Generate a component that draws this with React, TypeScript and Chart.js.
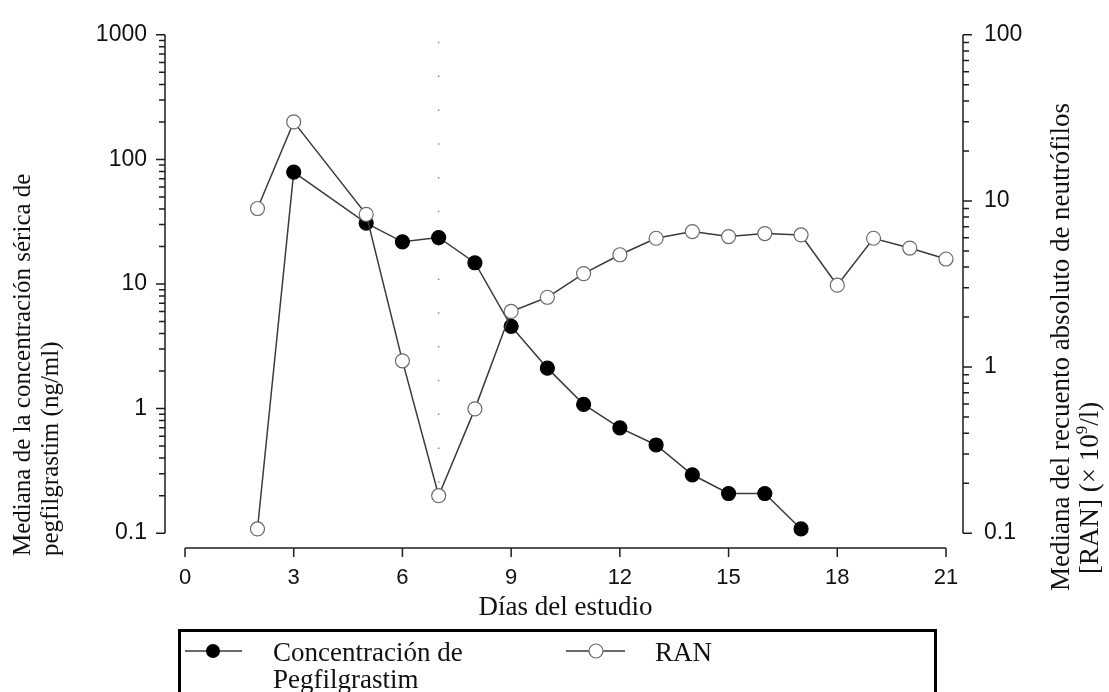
import React, { useEffect, useRef } from 'react';
import { Chart, registerables } from 'chart.js';

Chart.register(...registerables);

// ---- data ----
const ranDays = [2, 3, 5, 6, 7, 8, 9, 10, 11, 12, 13, 14, 15, 16, 17, 18, 19, 20, 21];
const ranValues = [9.0, 29.9, 8.3, 1.09, 0.168, 0.56, 2.16, 2.63, 3.65, 4.74, 5.96, 6.54, 6.1, 6.36, 6.24, 3.11, 5.96, 5.2, 4.47];
const pegDays = [2, 3, 5, 6, 7, 8, 9, 10, 11, 12, 13, 14, 15, 16, 17];
const pegValues = [0.108, 79, 30.8, 21.8, 23.6, 14.8, 4.57, 2.11, 1.08, 0.7, 0.51, 0.294, 0.208, 0.208, 0.108];
const xTicks = [0, 3, 6, 9, 12, 15, 18, 21];
const leftTicks = [0.1, 1, 10, 100, 1000];
const rightTicks = [0.1, 1, 10, 100];
const referenceDay = 7;

const leftTitle = ['Mediana de la concentración sérica de', 'pegfilgrastim (ng/ml)'];
const rightTitle1 = 'Mediana del recuento absoluto de neutrófilos';
const xTitle = 'Días del estudio';
const legendPeg = ['Concentración de', 'Pegfilgrastim'];
const legendRan = 'RAN';

const SERIF = '"Liberation Serif", "Times New Roman", serif';
const SANS = '"Liberation Sans", Arial, sans-serif';
const LINE_COLOR = '#3a3a3a';
const OPEN_BORDER = '#6a6a6a';

function minorValues(minExp: number, maxExp: number): number[] {
  const out: number[] = [];
  for (let e = minExp; e < maxExp; e++) {
    for (let k = 2; k <= 9; k++) out.push(k * Math.pow(10, e));
  }
  return out;
}

function drawMarker(ctx: CanvasRenderingContext2D, x: number, y: number, filled: boolean) {
  ctx.beginPath();
  ctx.arc(x, y, 7, 0, Math.PI * 2);
  if (filled) {
    ctx.fillStyle = '#000';
    ctx.fill();
  } else {
    ctx.fillStyle = '#fff';
    ctx.fill();
    ctx.lineWidth = 1.2;
    ctx.strokeStyle = OPEN_BORDER;
    ctx.stroke();
  }
}

const decorPlugin = {
  id: 'decor',
  beforeDatasetsDraw(chart: any) {
    const ctx: CanvasRenderingContext2D = chart.ctx;
    const x = chart.scales.x.getPixelForValue(referenceDay);
    const yL = chart.scales.yL;
    ctx.save();
    ctx.strokeStyle = '#8a8a8a';
    ctx.lineWidth = 1.5;
    ctx.setLineDash([1.5, 32.3]);
    ctx.beginPath();
    ctx.moveTo(x, chart.chartArea.top + 7);
    ctx.lineTo(x, yL.getPixelForValue(0.1) - 22);
    ctx.stroke();
    ctx.restore();
  },
  afterDraw(chart: any) {
    const ctx: CanvasRenderingContext2D = chart.ctx;
    const xs = chart.scales.x;
    const yL = chart.scales.yL;
    const yR = chart.scales.yR;
    const area = chart.chartArea;
    ctx.save();
    ctx.strokeStyle = '#1e1e1e';
    ctx.lineWidth = 1.5;

    // x axis
    const xAxisY = area.bottom;
    ctx.beginPath();
    ctx.moveTo(xs.getPixelForValue(xTicks[0]), xAxisY);
    ctx.lineTo(xs.getPixelForValue(xTicks[xTicks.length - 1]), xAxisY);
    for (const t of xTicks) {
      const px = xs.getPixelForValue(t);
      ctx.moveTo(px, xAxisY);
      ctx.lineTo(px, xAxisY + 9);
    }
    ctx.stroke();

    // left axis
    const lx = area.left;
    ctx.beginPath();
    ctx.moveTo(lx, yL.getPixelForValue(leftTicks[0]));
    ctx.lineTo(lx, yL.getPixelForValue(leftTicks[leftTicks.length - 1]));
    for (const t of leftTicks) {
      const py = yL.getPixelForValue(t);
      ctx.moveTo(lx, py);
      ctx.lineTo(lx - 9, py);
    }
    for (const t of minorValues(-1, 3)) {
      const py = yL.getPixelForValue(t);
      ctx.moveTo(lx, py);
      ctx.lineTo(lx - 6, py);
    }
    ctx.stroke();

    // right axis
    const rx = area.right;
    ctx.beginPath();
    ctx.moveTo(rx, yR.getPixelForValue(rightTicks[0]));
    ctx.lineTo(rx, yR.getPixelForValue(rightTicks[rightTicks.length - 1]));
    for (const t of rightTicks) {
      const py = yR.getPixelForValue(t);
      ctx.moveTo(rx, py);
      ctx.lineTo(rx + 9, py);
    }
    for (const t of minorValues(-1, 2)) {
      const py = yR.getPixelForValue(t);
      ctx.moveTo(rx, py);
      ctx.lineTo(rx + 6, py);
    }
    ctx.stroke();

    // titles
    ctx.fillStyle = '#111';
    ctx.textBaseline = 'middle';
    ctx.textAlign = 'left';
    const rot = (x: number, y: number, fn: () => void) => {
      ctx.save();
      ctx.translate(x, y);
      ctx.rotate(-Math.PI / 2);
      fn();
      ctx.restore();
    };
    ctx.font = `25px ${SERIF}`;
    rot(23, 556, () => ctx.fillText(leftTitle[0], 0, 0));
    rot(51, 556, () => ctx.fillText(leftTitle[1], 0, 0));
    ctx.font = `27px ${SERIF}`;
    rot(1062, 591, () => ctx.fillText(rightTitle1, 0, 0));
    rot(1091, 574, () => {
      const a = '[RAN] (× 10';
      ctx.fillText(a, 0, 0);
      let w = ctx.measureText(a).width;
      ctx.font = `17px ${SERIF}`;
      ctx.fillText('9', w, -8);
      w += ctx.measureText('9').width;
      ctx.font = `27px ${SERIF}`;
      ctx.fillText('/l)', w, 0);
    });
    ctx.textAlign = 'center';
    ctx.font = `27px ${SERIF}`;
    ctx.fillText(xTitle, (xs.getPixelForValue(xTicks[0]) + xs.getPixelForValue(xTicks[xTicks.length - 1])) / 2, 608);

    // legend
    ctx.lineWidth = 3;
    ctx.strokeStyle = '#000';
    ctx.strokeRect(179.5, 630.5, 756, 100);
    ctx.lineWidth = 1.5;
    ctx.strokeStyle = LINE_COLOR;
    ctx.beginPath();
    ctx.moveTo(185, 651);
    ctx.lineTo(242, 651);
    ctx.moveTo(566, 651);
    ctx.lineTo(625, 651);
    ctx.stroke();
    drawMarker(ctx, 213, 651, true);
    drawMarker(ctx, 596, 651, false);
    ctx.fillStyle = '#111';
    ctx.font = `27px ${SERIF}`;
    ctx.textAlign = 'left';
    ctx.textBaseline = 'alphabetic';
    ctx.fillText(legendPeg[0], 273, 661);
    ctx.fillText(legendPeg[1], 273, 688);
    ctx.fillText(legendRan, 655, 661);
    ctx.restore();
  },
};

export default function App() {
  const ref = useRef<HTMLCanvasElement | null>(null);

  useEffect(() => {
    document.body.style.margin = '0';
    const canvas = ref.current;
    if (!canvas) return;
    const chart = new Chart(canvas, {
      type: 'line',
      data: {
        datasets: [
          {
            label: legendRan,
            data: ranDays.map((d, i) => ({ x: d, y: ranValues[i] })),
            yAxisID: 'yR',
            borderColor: LINE_COLOR,
            borderWidth: 1.5,
            pointRadius: 7,
            pointBackgroundColor: '#fff',
            pointBorderColor: OPEN_BORDER,
            pointBorderWidth: 1.2,
            tension: 0,
          },
          {
            label: legendPeg.join(' '),
            data: pegDays.map((d, i) => ({ x: d, y: pegValues[i] })),
            yAxisID: 'yL',
            borderColor: LINE_COLOR,
            borderWidth: 1.5,
            pointRadius: 7,
            pointBackgroundColor: pegDays.map((_, i) => (i === 0 ? '#fff' : '#000')),
            pointBorderColor: pegDays.map((_, i) => (i === 0 ? OPEN_BORDER : '#000')),
            pointBorderWidth: 1.2,
            tension: 0,
          },
        ],
      },
      options: {
        animation: false,
        responsive: false,
        events: [],
        layout: { padding: { top: 30, left: 0, right: 0, bottom: 0 } },
        plugins: { legend: { display: false }, tooltip: { enabled: false }, title: { display: false } },
        scales: {
          x: {
            type: 'linear',
            position: 'bottom',
            min: -0.552,
            max: 21.469,
            grid: { display: false, drawTicks: false },
            border: { display: false },
            afterBuildTicks: (s: any) => {
              s.ticks = xTicks.map((v) => ({ value: v }));
            },
            afterFit: (s: any) => {
              s.height = 144;
            },
            ticks: {
              padding: 17,
              color: '#111',
              font: { family: SANS, size: 22 },
              maxRotation: 0,
              autoSkip: false,
              callback: (v: any) => String(v),
            },
          },
          yL: {
            type: 'logarithmic',
            position: 'left',
            min: 0.07597,
            max: 1000,
            grid: { display: false, drawTicks: false },
            border: { display: false },
            afterBuildTicks: (s: any) => {
              s.ticks = leftTicks.map((v) => ({ value: v }));
            },
            afterFit: (s: any) => {
              s.width = 165;
            },
            ticks: {
              padding: 18,
              color: '#111',
              font: { family: SANS, size: 23 },
              autoSkip: false,
              callback: (v: any) => String(v),
            },
          },
          yR: {
            type: 'logarithmic',
            position: 'right',
            min: 0.08139,
            max: 100,
            grid: { display: false, drawTicks: false },
            border: { display: false },
            afterBuildTicks: (s: any) => {
              s.ticks = rightTicks.map((v) => ({ value: v }));
            },
            afterFit: (s: any) => {
              s.width = 146;
            },
            ticks: {
              padding: 21,
              color: '#111',
              font: { family: SANS, size: 23 },
              autoSkip: false,
              callback: (v: any) => String(v),
            },
          },
        },
      },
      plugins: [decorPlugin],
    } as any);
    return () => chart.destroy();
  }, []);

  return (
    <div style={{ position: 'fixed', left: 0, top: 0, width: 1109, height: 692, background: '#fff' }}>
      <canvas ref={ref} width={1109} height={692} />
    </div>
  );
}
